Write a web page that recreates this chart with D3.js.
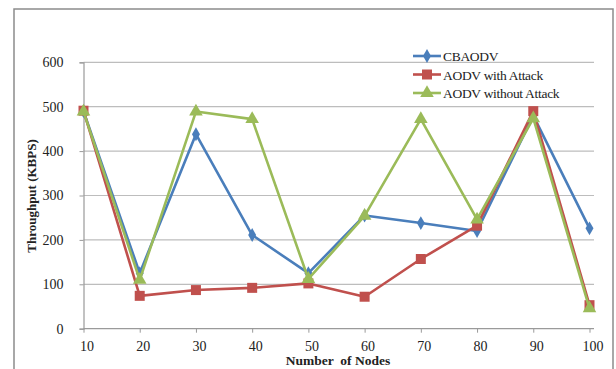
<!DOCTYPE html>
<html>
<head>
<meta charset="utf-8">
<script src="https://cdn.jsdelivr.net/npm/d3@7"></script>
<style>
  body { margin: 0; background: #fff; }
  svg { display: block; }
  text { font-family: 'Liberation Serif', 'Times New Roman', serif; fill: #222; }
</style>
</head>
<body>
<svg id="chart" width="616" height="369"></svg>
<script>
const nodes = [10, 20, 30, 40, 50, 60, 70, 80, 90, 100]
const cbaodv = [490, 125, 438, 211, 125, 255, 238, 220, 480, 226]
const aodvAttack = [491, 74, 87, 92, 102, 72, 157, 232, 490, 53]
const aodvNoAttack = [489, 110, 489, 472, 112, 254, 472, 246, 474, 46]
const yTicks = [0, 100, 200, 300, 400, 500, 600]

const series = [
  { name: 'CBAODV', values: cbaodv, color: '#4A7EBB', marker: 'diamond' },
  { name: 'AODV with Attack', values: aodvAttack, color: '#C0504D', marker: 'square' },
  { name: 'AODV without Attack', values: aodvNoAttack, color: '#9BBB59', marker: 'triangle' }
]

const svg = d3.select('#chart')

// outer frame
svg.append('path')
  .attr('d', 'M14,369 V9 H613 V369')
  .attr('fill', 'none')
  .attr('stroke', '#8c8c8c')
  .attr('stroke-width', 1.5)

const x = d3.scaleLinear().domain([10, 100]).range([83.5, 589.5])
const y = d3.scaleLinear().domain([0, 600]).range([328.7, 62.3])
const plotRight = 594

const g = svg.append('g')

// gridlines
g.selectAll('.grid')
  .data(yTicks.filter(d => d > 0))
  .enter().append('line')
  .attr('class', 'grid')
  .attr('x1', x(10)).attr('x2', plotRight)
  .attr('y1', d => y(d)).attr('y2', d => y(d))
  .attr('stroke', '#bdbdbd')
  .attr('stroke-width', 1.2)

// y axis
const yAxis = g.append('g')
  .attr('transform', `translate(${x(10)},0)`)
  .call(d3.axisLeft(y).tickValues(yTicks).tickSize(4).tickPadding(16))
yAxis.select('.domain').attr('stroke', '#9a9a9a').attr('stroke-width', 1.2)
yAxis.selectAll('.tick line').attr('stroke', '#9a9a9a')
yAxis.selectAll('.tick text')
  .style('font-family', "'Liberation Serif', serif")
  .style('font-size', '14px')
  .attr('fill', '#222')

// x axis
const xAxis = g.append('g')
  .attr('transform', `translate(0,${y(0)})`)
  .call(d3.axisBottom(x).tickValues(nodes).tickSize(4).tickSizeOuter(0).tickPadding(8))
xAxis.select('.domain').attr('d', `M${x(10)},0H${plotRight}`).attr('stroke', '#9a9a9a').attr('stroke-width', 1.2)
xAxis.selectAll('.tick line').attr('stroke', '#9a9a9a')
xAxis.selectAll('.tick text')
  .style('font-family', "'Liberation Serif', serif")
  .style('font-size', '14px')
  .attr('fill', '#222')
  .attr('dx', 3)

// axis titles
svg.append('text')
  .attr('transform', 'translate(36,196) rotate(-90)')
  .attr('text-anchor', 'middle')
  .style('font-size', '13px')
  .style('font-weight', 'bold')
  .text('Throughput (KBPS)')

svg.append('text')
  .attr('x', 338)
  .attr('y', 365)
  .attr('text-anchor', 'middle')
  .style('font-size', '13.5px')
  .style('font-weight', 'bold')
  .style('white-space', 'pre')
  .attr('xml:space', 'preserve')
  .text('Number  of Nodes')

const markerPath = (type) => {
  if (type === 'diamond') return d3.symbol().type(d3.symbolDiamond).size(55)()
  if (type === 'square') return d3.symbol().type(d3.symbolSquare).size(100)()
  return d3.symbol().type(d3.symbolTriangle).size(80)()
}

const line = d3.line()
  .x((d, i) => x(nodes[i]))
  .y(d => y(d))

series.forEach(s => {
  const sg = g.append('g')
  sg.append('path')
    .attr('d', line(s.values))
    .attr('fill', 'none')
    .attr('stroke', s.color)
    .attr('stroke-width', 2.6)
    .attr('stroke-linejoin', 'round')
  sg.selectAll('.mark')
    .data(s.values)
    .enter().append('path')
    .attr('class', 'mark')
    .attr('transform', (d, i) => `translate(${x(nodes[i])},${y(d)})`)
    .attr('d', markerPath(s.marker))
    .attr('fill', s.color)
})

// legend
const legend = svg.append('g')
const legendY = [56, 74.5, 93]
series.forEach((s, i) => {
  const lg = legend.append('g').attr('transform', `translate(413,${legendY[i]})`)
  lg.append('line')
    .attr('x1', 0).attr('x2', 28)
    .attr('stroke', s.color)
    .attr('stroke-width', 2.6)
  lg.append('path')
    .attr('transform', 'translate(14,0)')
    .attr('d', markerPath(s.marker))
    .attr('fill', s.color)
  lg.append('text')
    .attr('x', 30)
    .attr('y', 5)
    .style('font-size', '13.5px')
    .attr('letter-spacing', '-0.3')
    .text(s.name)
})
</script>
</body>
</html>
